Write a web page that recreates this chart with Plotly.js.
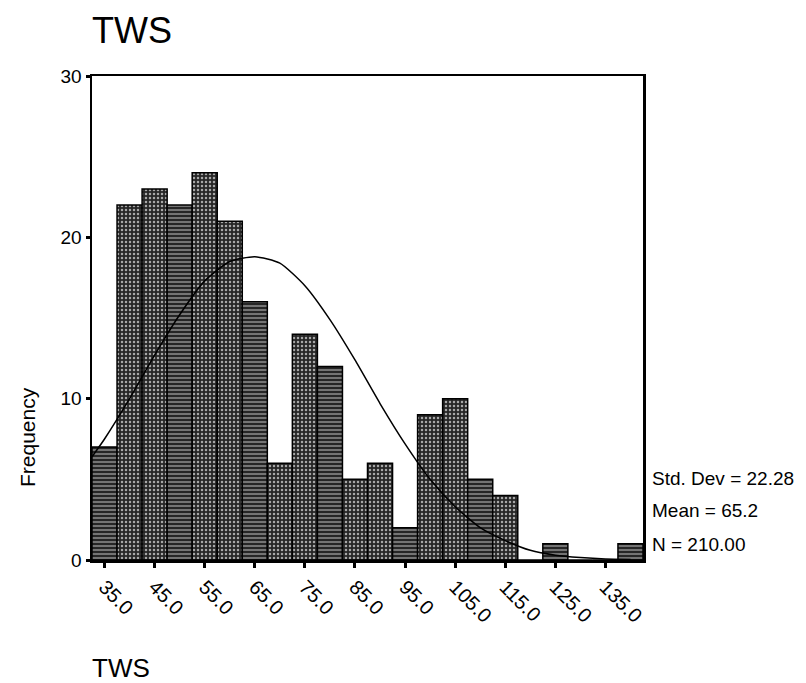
<!DOCTYPE html>
<html>
<head>
<meta charset="utf-8">
<script src="https://cdn.plot.ly/plotly-3.0.1.min.js"></script>
<style>html,body{margin:0;padding:0;background:#fff;}#chart{width:806px;height:683px;}</style>
</head>
<body>
<div id="chart"></div>
<script>
// Bin centers (width 5) and frequencies
const binCenters = [35,40,45,50,55,60,65,70,75,80,85,90,95,100,105,110,115,120,125,130,135,140];
const frequencies = [7,22,23,22,24,21,16,6,14,12,5,6,2,9,10,5,4,0,1,0,0,1];
const barPatterns = ['-','.','.','-','.','.','-','.','.','-','.','.','-','.','.','-','.','-','-','-','-','-'];

// Fitted normal curve
const curveX = [32.5,35,40,45,50,55,60,65,70,75,80,85,90,95,100,105,110,115,120,125,130,135,140];
const curveY = [6.4,7.5,10.0,12.7,15.2,17.3,18.5,18.8,18.4,17.0,14.9,12.4,9.7,7.2,5.0,3.3,2.0,1.2,0.6,0.3,0.15,0.06,0.03];

// Axis ticks
const xTickVals = [35,45,55,65,75,85,95,105,115,125,135];
const xTickText = ['35.0','45.0','55.0','65.0','75.0','85.0','95.0','105.0','115.0','125.0','135.0'];
const yTickVals = [0,10,20,30];

// Texts
const chartTitle = 'TWS';
const xTitle = 'TWS';
const yTitle = 'Frequency';
const statsLines = ['Std. Dev = 22.28','Mean = 65.2','N = 210.00'];

const FONT = 'Arial, "Liberation Sans", Helvetica, sans-serif';

const bars = {
  type: 'bar',
  x: binCenters,
  y: frequencies,
  width: 5,
  marker: {
    color: '#2a2a2a',
    line: {color: '#000000', width: 1.5},
    pattern: {
      shape: barPatterns,
      fgcolor: '#a8a8a8',
      bgcolor: '#262626',
      size: 4,
      solidity: 0.3
    }
  },
  hoverinfo: 'x+y'
};

const curve = {
  type: 'scatter',
  mode: 'lines',
  x: curveX,
  y: curveY,
  line: {color: '#000000', width: 1.5, shape: 'spline', smoothing: 0.6},
  hoverinfo: 'skip'
};

const statsY = [0.169, 0.103, 0.033];
const annotations = statsLines.map((t, i) => ({
  text: t, xref: 'paper', yref: 'paper', x: 1.013, y: statsY[i],
  xanchor: 'left', yanchor: 'middle', showarrow: false,
  font: {family: FONT, size: 19, color: '#000'}
}));
annotations.push({
  text: xTitle, xref: 'paper', yref: 'paper', x: -0.004, y: -0.223,
  xanchor: 'left', yanchor: 'middle', showarrow: false,
  font: {family: FONT, size: 26, color: '#000'}
});
annotations.push({
  text: yTitle, xref: 'paper', yref: 'paper', x: -0.118, y: 0.254,
  xanchor: 'center', yanchor: 'middle', showarrow: false, textangle: -90,
  font: {family: FONT, size: 21, color: '#000'}
});

const layout = {
  width: 806, height: 683,
  paper_bgcolor: '#ffffff', plot_bgcolor: '#ffffff',
  margin: {l: 92, r: 163, t: 76, b: 123},
  showlegend: false,
  bargap: 0,
  title: {
    text: chartTitle, xref: 'container', yref: 'container',
    x: 92/806, xanchor: 'left', y: 1 - 30/683, yanchor: 'middle',
    font: {family: FONT, size: 36, color: '#000'}
  },
  xaxis: {
    range: [32.5, 142.5], tickmode: 'array', tickvals: xTickVals, ticktext: xTickText,
    tickangle: 45, ticks: 'outside', ticklen: 5, tickwidth: 3, tickcolor: '#000',
    showline: true, linecolor: '#000', linewidth: 2.5, mirror: true,
    showgrid: false, zeroline: false,
    tickfont: {family: FONT, size: 20, color: '#000'}
  },
  yaxis: {
    range: [0, 30], tickmode: 'array', tickvals: yTickVals,
    ticks: 'outside', ticklen: 4, tickwidth: 3, tickcolor: '#000',
    showline: true, linecolor: '#000', linewidth: 2.5, mirror: true,
    showgrid: false, zeroline: false,
    tickfont: {family: FONT, size: 19, color: '#000'}
  },
  annotations: annotations
};

Plotly.newPlot('chart', [bars, curve], layout, {displayModeBar: false, staticPlot: true});
</script>
</body>
</html>
